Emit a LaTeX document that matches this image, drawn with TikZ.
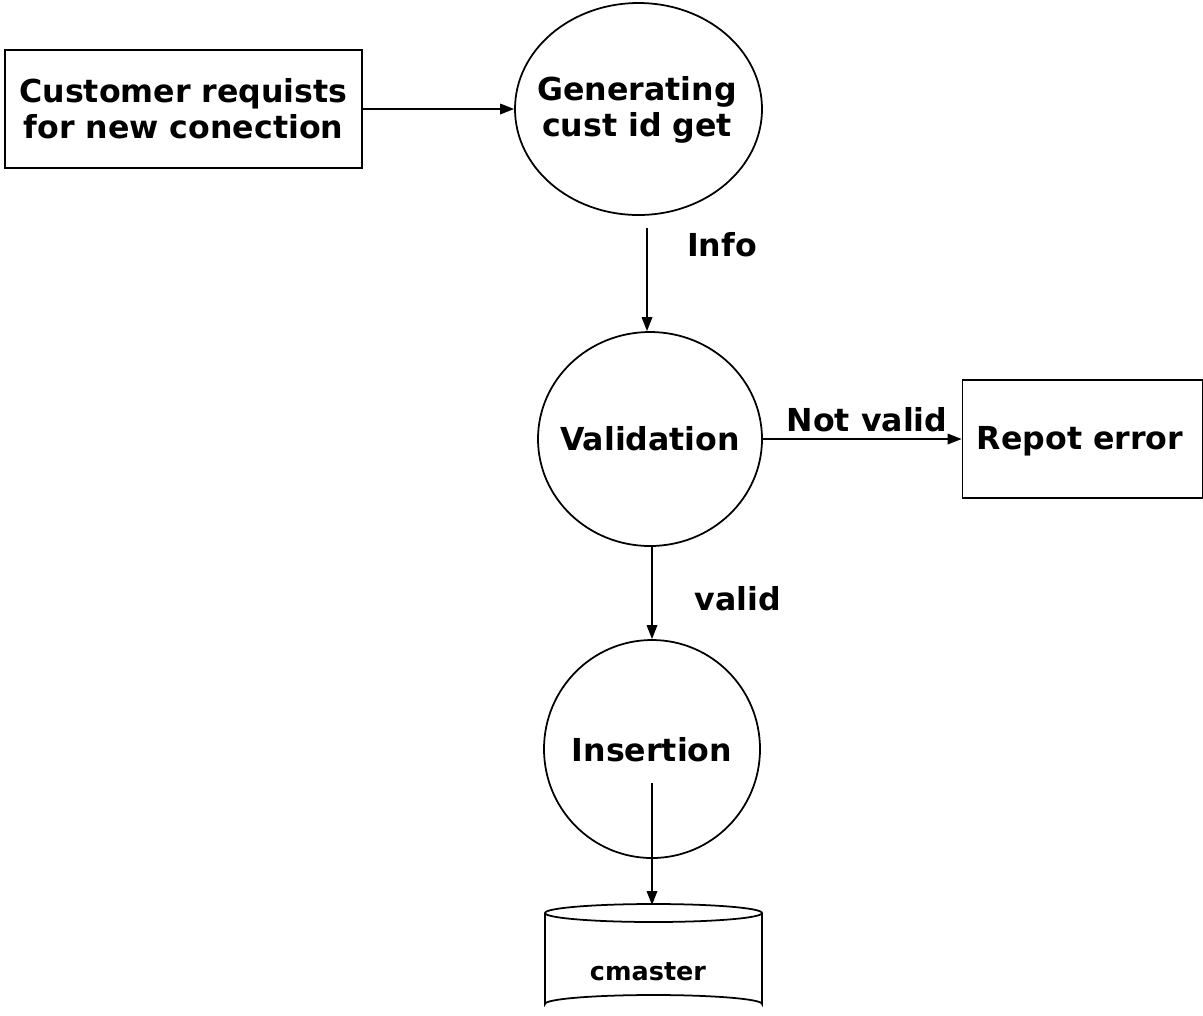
\documentclass[tikz,border=0pt]{standalone}
\usepackage{fontspec}
\setmainfont{DejaVu Sans}
\usetikzlibrary{shapes.geometric,arrows.meta}
\begin{document}
\begin{tikzpicture}[x=0.02cm,y=-0.02cm,
  lbl/.style={font=\fontsize{18}{20.5}\selectfont\bfseries, align=center, inner sep=0pt},
  procbox/.style={draw, line width=1pt, inner sep=0pt},
  proc/.style={draw, ellipse, line width=1pt, inner sep=0pt},
  flow/.style={line width=1pt, -{Triangle[length=2.8mm,width=2.1mm]}},
  every node/.style={text=black}]
\useasboundingbox (0,0) rectangle (1203,1015);
% external entity
\node[procbox, minimum width=357*0.02cm, minimum height=118*0.02cm] (cust) at (183.5,109) {};
\node[lbl] at (cust.center) {Customer requists\\for new conection};
% processes
\node[proc, minimum width=247*0.02cm, minimum height=212*0.02cm] (gen) at (638.5,109) {};
\node[lbl] at (637,110) {Generating\\cust id get};
\node[proc, minimum width=224*0.02cm, minimum height=214*0.02cm] (val) at (650,439) {};
\node[lbl] at (val.center) {Validation};
\node[proc, minimum width=216*0.02cm, minimum height=218*0.02cm] (ins) at (652,749) {};
\node[lbl] at (652,750) {Insertion};
% error box
\node[procbox, minimum width=240*0.02cm, minimum height=118*0.02cm] (err) at (1082.5,439) {};
\node[lbl] at (1080,441) {Repot error};
% data store cylinder
\coordinate (cyltop) at (652,905);
\draw[line width=1pt] (545,913) -- (545,1004) arc[start angle=180,end angle=360,x radius=108.5,y radius=9] -- (762,913);
\draw[line width=1pt] (653.5,913) ellipse [x radius=108.5, y radius=9];
\node[lbl, font=\fontsize{14.5}{17}\selectfont\bfseries] (cm) at (648,972) {cmaster};
% connectors
\draw[flow] (cust.east) -- (gen.west);
\coordinate (infostart) at (647,228);
\draw[flow] (infostart) -- (infostart |- val.north);
\node[lbl] at (722,245) {Info};
\draw[flow] (val.east) -- (err.west);
\node[lbl] at (867,420) {Not valid};
\draw[flow] (val.south -| ins.north) -- (ins.north);
\node[lbl] at (738,599) {valid};
\coordinate (insstart) at (652,783);
\draw[flow] (insstart) -- (cyltop);
\end{tikzpicture}
\end{document}
